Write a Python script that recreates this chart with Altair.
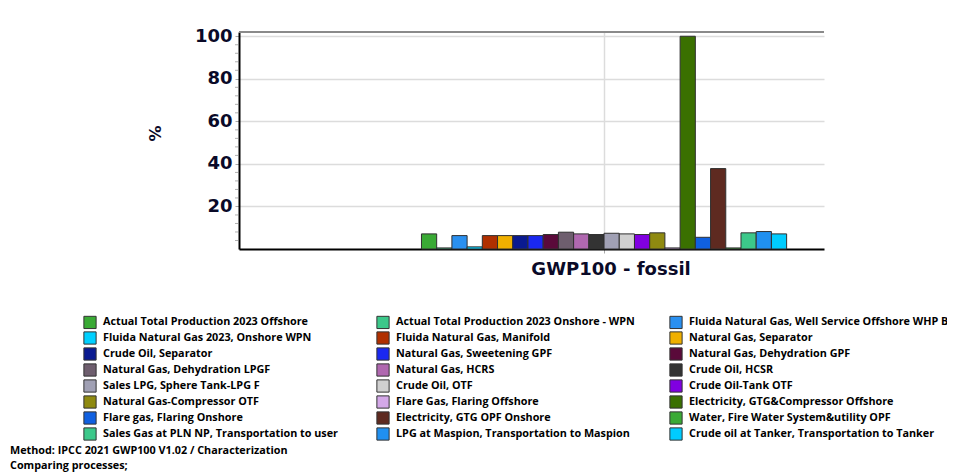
import altair as alt
import pandas as pd

category = "GWP100 - fossil"

series = [
    "Actual Total Production 2023 Offshore",
    "Actual Total Production 2023 Onshore - WPN",
    "Fluida Natural Gas, Well Service Offshore WHP B",
    "Fluida Natural Gas 2023, Onshore WPN",
    "Fluida Natural Gas, Manifold",
    "Natural Gas, Separator",
    "Crude Oil, Separator",
    "Natural Gas, Sweetening GPF",
    "Natural Gas, Dehydration GPF",
    "Natural Gas, Dehydration LPGF",
    "Natural Gas, HCRS",
    "Crude Oil, HCSR",
    "Sales LPG, Sphere Tank-LPG F",
    "Crude Oil, OTF",
    "Crude Oil-Tank OTF",
    "Natural Gas-Compressor OTF",
    "Flare Gas, Flaring Offshore",
    "Electricity, GTG&Compressor Offshore",
    "Flare gas, Flaring Onshore",
    "Electricity, GTG OPF Onshore",
    "Water,  Fire Water System&utility OPF",
    "Sales Gas at PLN NP, Transportation to user",
    "LPG at Maspion, Transportation to Maspion",
    "Crude oil at Tanker, Transportation to Tanker",
]

values = [7.1, 0.5, 6.3, 1.0, 6.3, 6.3, 6.3, 6.3, 6.8, 7.9, 7.1, 6.8,
          7.4, 7.1, 6.8, 7.6, 0.5, 100.0, 5.5, 37.8, 0.5, 7.6, 8.2, 7.1]

colors = ["#3aaa35", "#3cc88a", "#2a90f0", "#00d0ff", "#b03000", "#f0b000",
          "#0a1a90", "#1a28f0", "#5a0a3a", "#6e5e6e", "#b068b0", "#333333",
          "#a0a0b4", "#d0d0d0", "#8000e0", "#8f8a10", "#d4a8e8", "#3a7000",
          "#1060e0", "#5e2a20", "#3aaa35", "#3cc88a", "#2090f0", "#00ccff"]

y_major = [20, 40, 60, 80, 100]
y_minor = [4, 8, 12, 16, 24, 28, 32, 36, 44, 48, 52, 56, 64, 68, 72, 76, 84, 88, 92, 96]

note_lines = ["Method: IPCC 2021 GWP100 V1.02 / Characterization", "Comparing processes;"]

df = pd.DataFrame({"category": [category] * len(series), "series": series, "value": values})

yscale = alt.Scale(domain=[0, 102], nice=False, zero=True)

bars = alt.Chart(df).mark_bar(stroke="#303030", strokeWidth=1).encode(
    x=alt.X("category:N",
            scale=alt.Scale(paddingInner=0, paddingOuter=0.301, align=0.83),
            axis=alt.Axis(title=None, labelAngle=0, labelFont="DejaVu Sans",
                          labelFontSize=18, labelFontWeight="bold", labelColor="#0a0a28",
                          labelPadding=7, labelOffset=7, domainColor="#000000", domainWidth=2,
                          tickColor="#aaaaaa", tickSize=4, grid=True,
                          gridColor="#dcdcdc", gridWidth=1.5)),
    xOffset=alt.XOffset("series:N", sort=series, scale=alt.Scale(paddingInner=0, paddingOuter=0)),
    y=alt.Y("value:Q", scale=yscale,
            axis=alt.Axis(title="%", values=y_major, labelFont="DejaVu Sans", labelFontSize=18,
                          labelFontWeight="bold", labelColor="#0a0a28", labelPadding=3,
                          domainColor="#000000", domainWidth=2, tickColor="#aaaaaa",
                          tickSize=4, gridColor="#dcdcdc", gridWidth=1.5,
                          titleFont="DejaVu Sans", titleFontSize=16, titleFontWeight="bold",
                          titleColor="#0a0a28", titleX=-76, titleY=101, titleAngle=270)),
    color=alt.Color("series:N", sort=series,
                    scale=alt.Scale(domain=series, range=colors),
                    legend=alt.Legend(title=None, orient="none", legendX=-156, legendY=283,
                                      direction="horizontal",
                                      columns=3, symbolType="square", symbolSize=150,
                                      symbolStrokeColor="#333333", symbolStrokeWidth=1,
                                      symbolOpacity=1, labelFont="Open Sans", labelFontSize=10.8,
                                      labelFontWeight="bold", labelColor="#000000",
                                      labelOffset=6, labelLimit=400, rowPadding=-4,
                                      columnPadding=11, gridAlign="all", padding=0)),
)

top_rule = alt.Chart(pd.DataFrame({"v": [102]})).mark_rule(color="#8a8a8a", strokeWidth=2).encode(
    y=alt.Y("v:Q", scale=yscale), x=alt.value(0), x2=alt.value(585)
)

minor = alt.Chart(pd.DataFrame({"v": y_minor})).mark_rule(color="#b0b0b0", strokeWidth=1).encode(
    y=alt.Y("v:Q", scale=yscale), x=alt.value(-4), x2=alt.value(-1)
)

note = alt.Chart(pd.DataFrame({"t": ["\n".join(note_lines)]})).mark_text(
    align="left", baseline="top", lineBreak="\n", lineHeight=15, font="Open Sans",
    fontSize=10.8, fontWeight="bold", color="#000000"
).encode(text="t:N", x=alt.value(-229), y=alt.value(413))

chart = alt.layer(bars, top_rule, minor, note).properties(
    width=585, height=217,
    autosize=alt.AutoSizeParams(type="none"),
    padding={"left": 231, "top": 24, "right": 123, "bottom": 226},
).configure_view(stroke=None)

chart.save("out.html", embed_options={"renderer": "svg", "actions": False})
